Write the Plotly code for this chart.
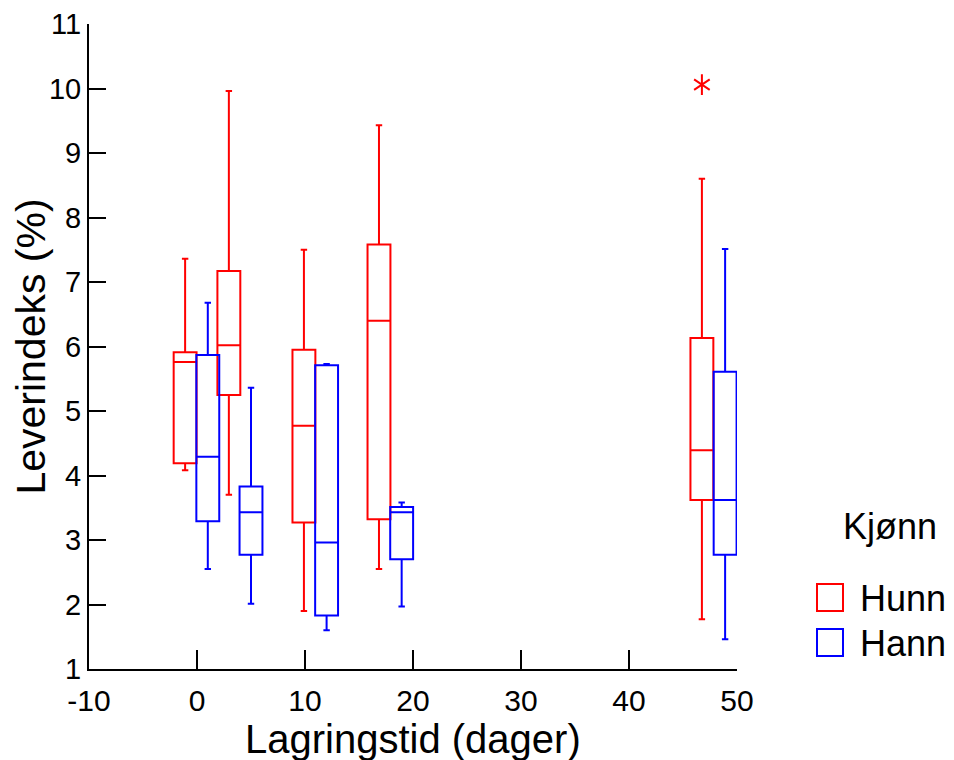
import plotly.graph_objects as go

# Data
red_x = [-1.1, 2.95, 9.9, 16.85, 46.75]
red_lowerfence = [4.08, 3.70, 1.90, 2.55, 1.77]
red_q1 = [4.19, 5.25, 3.27, 3.32, 3.62]
red_median = [5.76, 6.02, 4.77, 6.40, 4.39]
red_q3 = [5.91, 7.17, 5.95, 7.58, 6.13]
red_upperfence = [7.36, 9.96, 7.50, 9.43, 8.60]

blue_x = [1.0, 5.0, 12.0, 18.95, 48.9]
blue_lowerfence = [2.55, 2.01, 1.60, 1.97, 1.46]
blue_q1 = [3.29, 2.77, 1.83, 2.70, 2.77]
blue_median = [4.29, 3.43, 2.96, 3.43, 3.62]
blue_q3 = [5.87, 3.83, 5.71, 3.51, 5.61]
blue_upperfence = [6.68, 5.36, 5.73, 3.58, 7.51]

outlier_x = [46.75]
outlier_y = [10.06]

x_ticks = [-10, 0, 10, 20, 30, 40, 50]
y_ticks = list(range(1, 12))

x_title = "Lagringstid (dager)"
y_title = "Leverindeks (%)"
legend_title = "Kjønn"
series_names = ["Hunn", "Hann"]
colors = ["#ff0000", "#0000ff"]

FONT = "Liberation Sans, Arial, sans-serif"
BOXW = 2.12

fig = go.Figure()
fig.add_trace(go.Box(
    x=red_x, q1=red_q1, median=red_median, q3=red_q3,
    lowerfence=red_lowerfence, upperfence=red_upperfence,
    name=series_names[0], width=BOXW, whiskerwidth=0.28,
    line=dict(color=colors[0], width=2), fillcolor="rgba(0,0,0,0)",
    boxpoints=False, showlegend=False))
fig.add_trace(go.Box(
    x=blue_x, q1=blue_q1, median=blue_median, q3=blue_q3,
    lowerfence=blue_lowerfence, upperfence=blue_upperfence,
    name=series_names[1], width=BOXW, whiskerwidth=0.28,
    line=dict(color=colors[1], width=2), fillcolor="rgba(0,0,0,0)",
    boxpoints=False, showlegend=False))
# outlier drawn as a six-armed asterisk (two overlaid Y symbols)
for sym in ["y-up-open", "y-down-open"]:
    fig.add_trace(go.Scatter(
        x=outlier_x, y=outlier_y, mode="markers",
        marker=dict(symbol=sym, size=13, color=colors[0],
                    line=dict(color=colors[0], width=2)),
        showlegend=False, hoverinfo="skip"))

# page has an 8px body margin: figure placed at (8, 8)
OFF = 8
W, H = 954 - OFF, 760 - OFF
L, R, T, B = 89 - OFF, 954 - 737, 24 - OFF, 760 - 669
pw, ph = W - L - R, H - T - B

def px(x):
    return (x - OFF - L) / pw

def py(y):
    return (H - B - (y - OFF)) / ph

shapes = []
annotations = []
# manual legend
sq_top = [584, 629]
txt_y = [598, 643]
for i, name in enumerate(series_names):
    shapes.append(dict(type="rect", xref="paper", yref="paper",
                       x0=px(817), x1=px(843), y0=py(sq_top[i] + 27), y1=py(sq_top[i]),
                       line=dict(color=colors[i], width=2), fillcolor="rgba(0,0,0,0)"))
    annotations.append(dict(text=name, xref="paper", yref="paper",
                            x=px(858), y=py(txt_y[i]), xanchor="left", yanchor="middle",
                            showarrow=False, font=dict(family=FONT, size=36, color="black")))
annotations.append(dict(text=legend_title, xref="paper", yref="paper",
                        x=px(890), y=py(526), xanchor="center", yanchor="middle",
                        showarrow=False, font=dict(family=FONT, size=36, color="black")))
# x-axis title (runs off the bottom edge, as in the reference)
annotations.append(dict(text=x_title, xref="paper", yref="paper",
                        x=0.5, y=py(715), xanchor="center", yanchor="top",
                        showarrow=False, font=dict(family=FONT, size=40, color="black")))

fig.update_layout(
    width=W, height=H,
    margin=dict(l=L, r=R, t=T, b=B, autoexpand=False),
    paper_bgcolor="white", plot_bgcolor="white",
    boxmode="overlay",
    shapes=shapes, annotations=annotations,
    font=dict(family=FONT, color="black"),
    xaxis=dict(range=[-10, 50], tickvals=x_ticks, ticktext=[str(v) for v in x_ticks],
               ticks="inside", ticklen=19, tickwidth=2, tickcolor="black",
               showline=True, linecolor="black", linewidth=2,
               showgrid=False, zeroline=False, automargin=False,
               tickfont=dict(family=FONT, size=30), ticklabelstandoff=4),
    yaxis=dict(range=[1, 11.0001], tickvals=y_ticks, ticktext=[str(v) for v in y_ticks],
               ticks="inside", ticklen=17, tickwidth=2, tickcolor="black",
               showline=True, linecolor="black", linewidth=2,
               showgrid=False, zeroline=False, automargin=False,
               tickfont=dict(family=FONT, size=29), ticklabelstandoff=0,
               title=dict(text=y_title, font=dict(family=FONT, size=41), standoff=6)),
)

fig.write_html("out.html")
